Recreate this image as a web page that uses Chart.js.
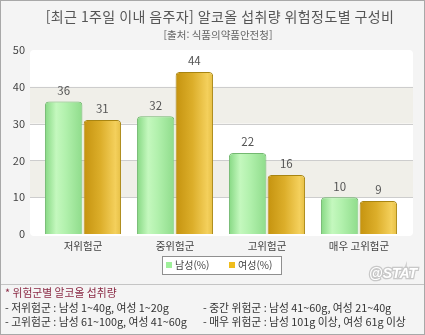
<!DOCTYPE html>
<html lang="ko">
<head>
<meta charset="utf-8">
<script src="https://cdn.jsdelivr.net/npm/chart.js@4/dist/chart.umd.min.js"></script>
<style>
  html, body { margin: 0; padding: 0; background: #f4f4f4; }
  #box { position: relative; width: 425px; height: 335px; }
  canvas { position: absolute; left: 0; top: 0; }
</style>
</head>
<body>
<div id="box"><canvas id="c" width="425" height="335"></canvas></div>
<script>
// 위험군별 음주자 구성비 (%)
const categories = ['저위험군', '중위험군', '고위험군', '매우 고위험군'];
const seriesNames = ['남성(%)', '여성(%)'];
const maleValues = [36, 32, 22, 10];
const femaleValues = [31, 44, 16, 9];
const yMin = 0, yMax = 50, yStep = 10;

const titleText = '[최근 1주일 이내 음주자] 알코올 섭취량 위험정도별 구성비';
const sourceText = '[출처: 식품의약품안전청]';
const noteTitle = '* 위험군별 알코올 섭취량';
const noteLines = [
  '- 저위험군 : 남성 1~40g, 여성 1~20g',
  '- 중간 위험군 : 남성 41~60g, 여성 21~40g',
  '- 고위험군 : 남성 61~100g, 여성 41~60g',
  '- 매우 위험군 : 남성 101g 이상, 여성 61g 이상'
];

const FONT = '"Noto Sans CJK KR", "Noto Sans", sans-serif';
const CAT_PCT = 0.84, BAR_PCT = 0.97;

const palettes = [
  { solid: '#a6eca2', border: '#73b870',
    stops: [[0, '#86d883'], [0.3, '#c4f8be'], [0.55, '#b2f1ad'], [1, '#8fdc8b']] },
  { solid: '#e2b43a', border: '#a88512',
    stops: [[0, '#c5930f'], [0.45, '#dcae2a'], [0.85, '#f4d05c'], [1, '#e6bf44']] }
];

// horizontal gradient across each bar, located from the category scale
function barFill(ctx) {
  const chart = ctx.chart;
  const pal = palettes[ctx.datasetIndex];
  const xs = chart.scales && chart.scales.x;
  if (!chart.chartArea || !xs || ctx.dataIndex === undefined) return pal.solid;
  const center = xs.getPixelForValue(ctx.dataIndex);
  const catW = (xs.right - xs.left) / categories.length;
  const slot = catW * CAT_PCT / 2;
  const bc = center + (ctx.datasetIndex === 0 ? -slot / 2 : slot / 2);
  const w = slot * BAR_PCT;
  const g = chart.ctx.createLinearGradient(bc - w / 2, 0, bc + w / 2, 0);
  pal.stops.forEach(s => g.addColorStop(s[0], s[1]));
  return g;
}

function roundRect(c, x, y, w, h, r) {
  c.beginPath();
  c.moveTo(x + r, y);
  c.lineTo(x + w - r, y); c.quadraticCurveTo(x + w, y, x + w, y + r);
  c.lineTo(x + w, y + h - r); c.quadraticCurveTo(x + w, y + h, x + w - r, y + h);
  c.lineTo(x + r, y + h); c.quadraticCurveTo(x, y + h, x, y + h - r);
  c.lineTo(x, y + r); c.quadraticCurveTo(x, y, x + r, y);
  c.closePath();
}

// panel background, banded plot area and grid lines
const backdrop = {
  id: 'backdrop',
  beforeDraw(chart) {
    const c = chart.ctx, a = chart.chartArea, ys = chart.scales.y;
    c.save();
    c.fillStyle = '#f4f4f4';
    c.fillRect(0, 0, chart.width, chart.height);
    const L = a.left - 7, R = a.right + 8;
    c.fillStyle = '#ffffff';
    roundRect(c, L, a.top, R - L, a.bottom - a.top + 2, 4);
    c.fill();
    c.fillStyle = '#f0efe9';
    for (let v = yMin + yStep; v < yMax; v += 2 * yStep) {
      const y1 = ys.getPixelForValue(v + yStep), y0 = ys.getPixelForValue(v);
      c.fillRect(L, y1, R - L, y0 - y1);
    }
    c.strokeStyle = '#cdcdcd';
    c.lineWidth = 1;
    for (let v = yMin + yStep; v < yMax; v += yStep) {
      const y = Math.round(ys.getPixelForValue(v)) + 0.5;
      c.beginPath(); c.moveTo(L, y); c.lineTo(R, y); c.stroke();
    }
    c.restore();
  },
  afterDraw(chart) {
    const c = chart.ctx;
    c.save();
    // title block
    c.textAlign = 'center';
    c.textBaseline = 'middle';
    c.fillStyle = '#555555';
    c.font = '14px ' + FONT;
    if ('letterSpacing' in c) c.letterSpacing = '0.4px';
    c.fillText(titleText, 220, 17);
    if ('letterSpacing' in c) c.letterSpacing = '0px';
    c.fillStyle = '#666666';
    c.font = '10.5px ' + FONT;
    c.fillText(sourceText, 218, 35);

    // notes below the chart
    c.strokeStyle = '#c4c4c4';
    c.beginPath(); c.moveTo(1, 284.5); c.lineTo(424, 284.5); c.stroke();
    c.textAlign = 'left';
    c.fillStyle = '#8b2a45';
    c.font = '10.8px ' + FONT;
    c.fillText(noteTitle, 5, 293);
    c.fillStyle = '#333333';
    c.fillText(noteLines[0], 5, 308);
    c.fillText(noteLines[1], 203, 308);
    c.fillText(noteLines[2], 5, 322);
    c.fillText(noteLines[3], 203, 322);

    // watermark
    c.font = 'italic bold 14px "Liberation Sans", sans-serif';
    c.lineWidth = 2.5;
    c.strokeStyle = '#c8c8c8';
    c.strokeText('@STAT', 369, 274);
    c.fillStyle = '#ffffff';
    c.fillText('@STAT', 369, 274);

    // outer frame
    c.strokeStyle = '#a8a8a8';
    c.lineWidth = 1;
    c.strokeRect(0.5, 0.5, chart.width - 1, chart.height - 1);
    c.restore();
  }
};

// value labels above each bar
const valueLabels = {
  id: 'valueLabels',
  afterDatasetsDraw(chart) {
    const c = chart.ctx;
    c.save();
    c.font = '11.5px ' + FONT;
    c.fillStyle = '#555555';
    c.textAlign = 'center';
    c.textBaseline = 'middle';
    chart.data.datasets.forEach((ds, di) => {
      chart.getDatasetMeta(di).data.forEach((el, i) => {
        c.fillText(String(ds.data[i]), el.x, el.y - 11);
      });
    });
    c.restore();
  }
};

// boxed legend under the category labels
const boxLegend = {
  id: 'boxLegend',
  afterDraw(chart) {
    const c = chart.ctx;
    c.save();
    c.fillStyle = '#ffffff';
    c.fillRect(162.5, 256.5, 119, 18);
    c.strokeStyle = '#8f8f8f';
    c.lineWidth = 1;
    c.strokeRect(162.5, 256.5, 119, 18);
    c.font = '10px ' + FONT;
    c.textBaseline = 'middle';
    c.textAlign = 'left';
    const xs = [166, 229];
    chart.data.datasets.forEach((ds, i) => {
      c.fillStyle = i === 0 ? '#9ff09a' : '#f0bd1c';
      c.fillRect(xs[i], 262, 6, 6);
      c.fillStyle = '#444444';
      c.fillText(ds.label, xs[i] + 9, 265.5);
    });
    c.restore();
  }
};

new Chart(document.getElementById('c'), {
  type: 'bar',
  data: {
    labels: categories,
    datasets: [
      { label: seriesNames[0], data: maleValues, backgroundColor: barFill,
        borderColor: palettes[0].border },
      { label: seriesNames[1], data: femaleValues, backgroundColor: barFill,
        borderColor: palettes[1].border }
    ]
  },
  options: {
    responsive: false,
    devicePixelRatio: 1,
    animation: false,
    categoryPercentage: CAT_PCT,
    barPercentage: BAR_PCT,
    datasets: {
      bar: {
        borderWidth: 1,
        borderSkipped: 'bottom',
        borderRadius: { topLeft: 4, topRight: 4, bottomLeft: 0, bottomRight: 0 }
      }
    },
    layout: { padding: { top: 50, right: 20, bottom: 0, left: 0 } },
    plugins: { legend: { display: false }, tooltip: { enabled: false }, title: { display: false } },
    scales: {
      x: {
        grid: { display: false, drawTicks: false },
        border: { display: false },
        ticks: { color: '#444444', font: { family: FONT, size: 10.5 }, padding: 6, maxRotation: 0 },
        afterFit(s) { s.height = 101; }
      },
      y: {
        min: yMin, max: yMax,
        grid: { display: false, drawTicks: false },
        border: { display: false },
        ticks: { stepSize: yStep, color: '#444444', font: { family: FONT, size: 11 }, padding: 12 },
        afterFit(s) { s.width = 37; }
      }
    }
  },
  plugins: [backdrop, valueLabels, boxLegend]
});
</script>
</body>
</html>
